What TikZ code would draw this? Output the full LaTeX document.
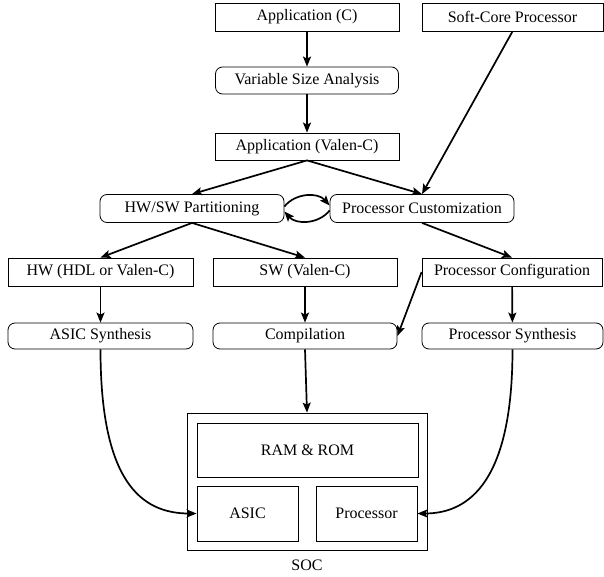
\documentclass[tikz,border=0pt]{standalone}
\usepackage{fontspec}
\setmainfont{Liberation Serif}
\usetikzlibrary{arrows.meta,positioning}
\tikzset{
  box/.style={draw, line width=0.8pt, inner sep=0pt, font=\fontsize{16}{19}\selectfont},
  rbox/.style={box, rounded corners=7pt},
  arr/.style={line width=1.7pt, -{Stealth[length=10pt,width=8pt,inset=2pt]}},
}
\begin{document}
\begin{tikzpicture}[x=1pt,y=-1pt]
\useasboundingbox (0,0) rectangle (604,577);
\node[box, minimum width=184pt, minimum height=28pt] (appc) at (307,17) {Application (C)};
\node[box, minimum width=181pt, minimum height=28pt] (soft) at (512.5,17) {Soft-Core Processor};
\node[rbox, minimum width=183pt, minimum height=27pt] (vsa) at (307,80.5) {Variable Size Analysis};
\node[box, minimum width=184pt, minimum height=27pt] (appv) at (307,146.5) {Application (Valen-C)};
\node[rbox, minimum width=184pt, minimum height=28pt] (hwsw) at (192,208.5) {HW/SW Partitioning};
\node[rbox, minimum width=184pt, minimum height=28pt] (pc) at (422,208.5) {Processor Customization};
\node[box, minimum width=185pt, minimum height=28pt] (hw) at (100.5,272) {HW (HDL or Valen-C)};
\node[box, minimum width=184pt, minimum height=28pt] (sw) at (305,272) {SW (Valen-C)};
\node[box, minimum width=180pt, minimum height=28pt] (pconf) at (512,272) {Processor Configuration};
\node[rbox, minimum width=185pt, minimum height=26pt] (asyn) at (100.5,336) {ASIC Synthesis};
\node[rbox, minimum width=184pt, minimum height=26pt] (comp) at (305,336) {Compilation};
\node[rbox, minimum width=181pt, minimum height=26pt] (psyn) at (512.5,336) {Processor Synthesis};
\node[box, minimum width=240pt, minimum height=137pt] (soc) at (307,481.5) {};
\node[box, minimum width=221pt, minimum height=54pt] (ram) at (307.5,450) {RAM \& ROM};
\node[box, minimum width=101pt, minimum height=55pt] (asic) at (247.5,513.5) {ASIC};
\node[box, minimum width=101pt, minimum height=55pt] (proc) at (366.5,513.5) {Processor};
\node[font=\fontsize{16}{19}\selectfont] (soclbl) at (307,565) {SOC};
\draw[arr] (appc) -- (vsa);
\draw[arr] (vsa) -- (appv);
\draw[arr] (appv.south) -- (hwsw.north);
\draw[arr] (appv.south) -- (pc.north);
\draw[arr] (soft.south) -- (pc.north);
\draw[arr] ([yshift=2pt]hwsw.east) to[bend left=50] ([yshift=3pt]pc.west);
\draw[arr] ([yshift=-2pt]pc.west) to[bend left=50] ([yshift=-3pt]hwsw.east);
\draw[arr] (hwsw.south) -- (hw.north);
\draw[arr] (hwsw.south) -- (sw.north);
\draw[arr] (pc.south) -- (pconf.north);
\draw[arr] (pconf.west) -- (comp.east);
\draw[arr] (hw) -- (asyn);
\draw[arr] (sw) -- (comp);
\draw[arr] (pconf) -- (psyn);
\draw[arr] (comp.south) -- (soc.north);
\draw[arr] (asyn.south) .. controls (100.5,480) and (140,513.5) .. (asic.west);
\draw[arr] (psyn.south) .. controls (512.5,480) and (470,513.5) .. (proc.east);
\end{tikzpicture}
\end{document}
